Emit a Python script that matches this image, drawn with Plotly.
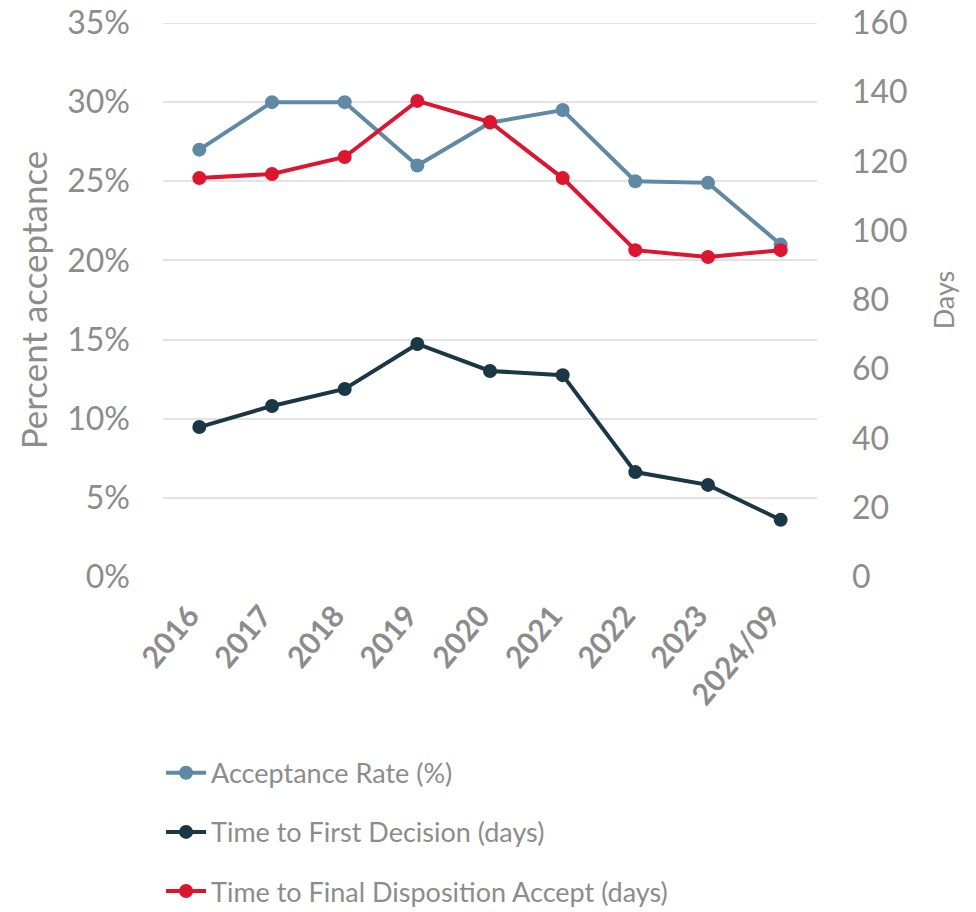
import plotly.graph_objects as go
from plotly.subplots import make_subplots

YEARS = ["2016", "2017", "2018", "2019", "2020", "2021", "2022", "2023", "2024/09"]
ACCEPTANCE_PCT = [27.0, 30.0, 30.0, 26.0, 28.7, 29.5, 25.0, 24.9, 21.0]
FIRST_DECISION_DAYS = [43.3, 49.4, 54.3, 67.3, 59.5, 58.3, 30.3, 26.6, 16.5]
FINAL_ACCEPT_DAYS = [115.2, 116.4, 121.3, 137.5, 131.4, 115.2, 94.4, 92.4, 94.4]

GRAY = "#8c8c8c"
GRID = "#e3e3e3"
FONT = "Lato"

fig = make_subplots(specs=[[{"secondary_y": True}]])
fig.add_trace(
    go.Scatter(
        x=YEARS, y=ACCEPTANCE_PCT, name="Acceptance Rate (%)",
        mode="lines+markers", legendgroup="a",
        line=dict(color="#5f89a5", width=4), marker=dict(size=14),
    ),
    secondary_y=False,
)
fig.add_trace(
    go.Scatter(
        x=YEARS, y=FIRST_DECISION_DAYS, name="Time to First Decision (days)",
        mode="lines+markers", legendgroup="b",
        line=dict(color="#1b3645", width=4), marker=dict(size=14),
    ),
    secondary_y=True,
)
fig.add_trace(
    go.Scatter(
        x=YEARS, y=FINAL_ACCEPT_DAYS, name="Time to Final Disposition Accept (days)",
        mode="lines+markers", legendgroup="c",
        line=dict(color="#dc1530", width=4), marker=dict(size=14),
    ),
    secondary_y=True,
)

fig.update_layout(
    width=976, height=912,
    margin=dict(l=163, r=159, t=23, b=335, autoexpand=False),
    plot_bgcolor="white", paper_bgcolor="white",
    font=dict(family=FONT, color=GRAY, size=27),
    showlegend=True,
    legend=dict(
        x=-0.003, y=-0.31, xanchor="left", yanchor="top",
        traceorder="grouped", tracegroupgap=21,
        font=dict(size=27, color=GRAY), itemwidth=40,
    ),
)
fig.update_xaxes(
    type="category", range=[-0.5, len(YEARS) - 0.5], tickangle=-50,
    showgrid=False, showline=False, automargin=False, ticks="",
    ticklabelstandoff=14, ticklabelshift=-10, domain=[0, 1],
    tickfont=dict(family=FONT, size=30, color=GRAY, weight="bold"),
)
fig.update_yaxes(
    range=[0, 35], dtick=5, ticksuffix="%", showgrid=True,
    gridcolor=GRID, gridwidth=2, zeroline=False, automargin=False,
    ticks="", ticklabelstandoff=32,
    title=dict(text="Percent acceptance", font=dict(size=35, color=GRAY), standoff=8),
    tickfont=dict(size=32, color=GRAY), secondary_y=False,
)
fig.update_yaxes(
    range=[0, 160], dtick=20, showgrid=False, zeroline=False, automargin=False,
    ticks="", ticklabelstandoff=34,
    title=dict(text="Days", font=dict(size=27, color=GRAY), standoff=28),
    tickfont=dict(size=32, color=GRAY), secondary_y=True,
)
# top gridline at the edge of the range is not drawn by plotly
fig.add_hline(y=35, line_color=GRID, line_width=2, layer="below")

# drop the default page margin so the figure fills the window exactly
fig.write_html(
    "out.html",
    config={"displayModeBar": False},
    post_script="document.body.style.margin='0';",
)
